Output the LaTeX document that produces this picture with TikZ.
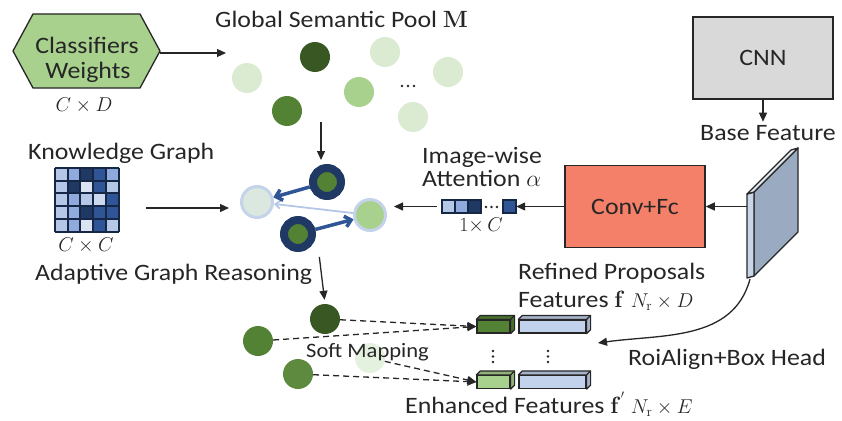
\RequirePackage{fix-cm}
\documentclass[tikz,border=0pt]{standalone}
\usepackage{amsmath}
\usepackage[no-math]{fontspec}
\setmainfont{Carlito}[FakeStretch=1.1]
\usepackage{tikz}
\usetikzlibrary{positioning,arrows.meta,calc}

\definecolor{edge}{HTML}{262626}
\definecolor{hexgreen}{HTML}{A9D18E}
\definecolor{dkgreen}{HTML}{385723}
\definecolor{mdgreen}{HTML}{548235}
\definecolor{ltgreen}{HTML}{A9D18E}
\definecolor{pale}{HTML}{DAEBD1}
\definecolor{navy}{HTML}{1F3864}
\definecolor{ringblue}{HTML}{C5D3EA}
\definecolor{convred}{HTML}{F4806A}
\definecolor{cnngray}{HTML}{D9D9D9}
\definecolor{slabface}{HTML}{9AAAC0}
\definecolor{slabside}{HTML}{C9D6EA}
\definecolor{barblue}{HTML}{C2D2EC}
\definecolor{kga}{HTML}{DAE3F3}
\definecolor{kgb}{HTML}{B4C7E7}
\definecolor{kgc}{HTML}{8FAADC}
\definecolor{kgd}{HTML}{2F5597}
\definecolor{kge}{HTML}{1F3864}
\definecolor{kgf}{HTML}{CBD8EE}

\newcommand{\mth}[1]{{\fontsize{20}{22}\selectfont$#1$}}

\begin{document}
\begin{tikzpicture}[x=1pt,y=-1pt,font=\fontsize{23.5}{27}\selectfont,text=edge,
    arr/.style={-{Triangle[length=9pt,width=8pt]},line width=1.3pt,draw=edge},
    dasharr/.style={arr,dash pattern=on 6pt off 4pt},
    garr/.style={-{Straight Barb[length=6pt,width=11pt]},line width=3.5pt,draw=kgd},
    txt/.style={anchor=base west,inner sep=0pt},
    ctxt/.style={anchor=base,inner sep=0pt},
    dot/.style={circle,inner sep=0pt,minimum size=30pt},
    ring/.style={circle,inner sep=0pt,minimum size=28pt,draw=navy,line width=8pt,fill=mdgreen},
    lring/.style={circle,inner sep=0pt,minimum size=31pt,draw=ringblue,line width=3pt},
    box/.style={draw=edge,line width=1.5pt,minimum width=140pt,minimum height=82pt},
    bar/.style={draw=edge,line width=1.2pt,inner sep=0pt,minimum height=13pt}]
  \useasboundingbox (0,0) rectangle (842,420);

  % classifier weights
  \draw[draw=edge,fill=hexgreen,line width=1.3pt]
    (13,51) -- (33,14) -- (140,14) -- (160,51) -- (140,88) -- (33,88) -- cycle;
  \node[ctxt] (cls1) at (87,53) {Classifiers};
  \node[ctxt] (cls2) at (88,78) {Weights};
  \node[ctxt] (clsdim) at (84,111) {\mth{C\times D}};
  \coordinate (clsout) at (160,53);
  \coordinate (poolin) at (226,53);
  \draw[arr] (clsout) -- (poolin);

  % global semantic pool
  \node[txt] (pooltitle) at (215,28) {Global Semantic Pool $\mathbf{M}$};
  \node[dot,fill=dkgreen] (p1) at (315,57) {};
  \node[dot,fill=pale] (p2) at (247,78) {};
  \node[dot,fill=pale] (p3) at (385,52) {};
  \node[dot,fill=ltgreen] (p4) at (359,92) {};
  \node[dot,fill=mdgreen] (p5) at (287,111) {};
  \node[dot,fill=pale] (p6) at (448,72) {};
  \node[dot,fill=pale] (p7) at (413,117) {};
  \foreach \d in {402,408,414}
    \fill[edge] (\d,86) circle (1.4);

  % graph
  \node[ring] (gtop) at (327,182) {};
  \node[ring] (gbot) at (298,234) {};
  \node[lring,fill=kga!40!pale] (gpale) at (257,202) {};
  \node[lring,fill=ltgreen] (glight) at (370,215) {};
  \draw[-{Straight Barb[length=5pt,width=8pt]},line width=1.8pt,draw=kgb] (glight) -- (gpale);
  \draw[garr] (gtop) -- (gpale);
  \draw[garr] (gbot) -- (glight);
  \coordinate (poolout) at (321,122);
  \draw[arr,shorten >=4pt] (poolout) -- (poolout |- gtop.north);

  % knowledge graph
  \node[txt] (kgtitle) at (28,159) {Knowledge Graph};
  \foreach \row [count=\i] in {{b,c,e,d,c},{b,e,a,d,b},{b,c,b,f,d},{b,c,e,d,d},{b,c,a,d,b}}
    \foreach \c [count=\j] in \row
      \fill[kg\c] (55+12.7*\j-12.7,168+12.7*\i-12.7) rectangle ++(12.7,12.7);
  \foreach \k in {0,...,5} {
    \draw[kge!70!black,line width=2pt] (55+12.7*\k,168) -- ++(0,63.5);
    \draw[kge!70!black,line width=2pt] (55,168+12.7*\k) -- ++(63.5,0);
  }
  \node[inner sep=0pt,minimum size=63.5pt] (kg) at (86.75,199.75) {};
  \node[ctxt] (kgdim) at (86,251) {\mth{C\times C}};
  \coordinate (kgout) at (146,208);
  \coordinate (gin) at (229,208);
  \draw[arr] (kgout) -- (gin);

  \node[txt] (agrtitle) at (35,280) {Adaptive Graph Reasoning};

  % image-wise attention
  \node[anchor=north west,inner sep=0pt,align=left,font=\fontsize{23.5}{23}\selectfont]
    (atttitle) at (422,147) {Image-wise\\Attention $\alpha$};
  \fill[kgb] (442,200) rectangle (455,213);
  \fill[kgc] (455,200) rectangle (468,213);
  \fill[kge] (468,200) rectangle (481,213);
  \fill[kgd] (503,200) rectangle (516,213);
  \draw[kge!70!black,line width=1.5pt] (442,200) rectangle (481,213);
  \draw[kge!70!black,line width=1.5pt] (455,200) -- (455,213) (468,200) -- (468,213);
  \draw[kge!70!black,line width=1.5pt] (503,200) rectangle (516,213);
  \foreach \d in {486,491.5,497}
    \fill[edge] (\d,207) circle (1.3);
  \node[inner sep=0pt,minimum width=74pt,minimum height=13pt] (att) at (479,206.5) {};
  \node[ctxt] (attdim) at (481,231) {\mth{1{\times}\,C}};

  % cnn, conv+fc, base feature
  \node[box,fill=cnngray] (cnn) at (763,58) {CNN};
  \node[ctxt] (basetitle) at (768,140) {Base Feature};
  \draw[arr,shorten >=3pt] (cnn.south) -- (cnn.south |- basetitle.north);
  \node[box,fill=convred] (convfc) at (635,206.5) {Conv+Fc};

  \filldraw[fill=slabface,draw=edge,line width=1.3pt,line join=round]
    (754,192) -- (798,148) -- (798,232) -- (754,276) -- cycle;
  \filldraw[fill=slabside,draw=edge,line width=1.3pt,line join=round]
    (747,194) -- (754,192) -- (754,276) -- (747,278) -- cycle;
  \filldraw[fill=slabside!50!white,draw=edge,line width=1.3pt,line join=round]
    (747,194) -- (791,150) -- (798,148) -- (754,192) -- cycle;
  \coordinate (slabL) at (747,206.5);
  \coordinate (slabB) at (750,279);

  \draw[arr] (slabL) -- (convfc.east);
  \draw[arr] (convfc.west) -- (att.east);
  \draw[arr,shorten <=5pt,shorten >=7pt] (att.west) -- (att.west -| glight.east);

  % proposals
  \node[txt] (reftitle) at (518,279) {Refined Proposals};
  \node[txt] (reftitle2) at (518,307) {Features $\mathbf{f}$ \mth{N_{\mathrm{r}}\times D}};
  \foreach \n/\c/\xx/\yy/\w in {gup/mdgreen/493.5/326.5/33,bup/barblue/552.5/326.5/67,
      glow/ltgreen/493.5/382/33,blow/barblue/552.5/382/67} {
    \node[bar,fill=\c,minimum width=\w pt] (\n) at (\xx,\yy) {};
    \filldraw[fill=\c!85!black,draw=edge,line width=1.2pt,line join=round]
      (\n.north west) -- ++(4,-4) -- ($(\n.north east)+(4,-4)$) -- ($(\n.south east)+(4,-4)$)
      -- (\n.south east) -- (\n.north east) -- cycle;
    \draw[edge,line width=1.2pt] (\n.north east) -- ++(4,-4);
  }
  \foreach \d in {351,356.5,362} {
    \fill[edge] (493,\d) circle (1.3);
    \fill[edge] (548,\d) circle (1.3);
  }
  \node[txt] (enhtitle) at (405,413) {Enhanced Features $\mathbf{f}^{'}$ \mth{N_{\mathrm{r}}\times E}};

  \coordinate (roiend) at (598,343);
  \draw[arr] (slabB) to[out=-105,in=8] (roiend);
  \node[txt] (roititle) at (628,365) {RoiAlign+Box Head};

  % soft mapping
  \node[dot,fill=pale!70!white] (s4) at (370,358) {};
  \node[dot,fill=dkgreen] (s1) at (325,319) {};
  \node[dot,fill=mdgreen] (s2) at (258,341) {};
  \node[dot,fill=mdgreen!90!ltgreen] (s3) at (298,374) {};
  \node[txt,font=\fontsize{20.5}{24}\selectfont] (softtitle) at (306,357) {Soft Mapping};
  \draw[arr,shorten >=4pt] ($(agrtitle.east)+(7,-17)$) -- (s1.north);
  \draw[dasharr] (s1) -- (gup.west);
  \draw[dasharr] (s2) -- (gup.west);
  \draw[dasharr] (s4) -- (glow.west);
  \draw[dasharr] (s3) -- (glow.west);
\end{tikzpicture}
\end{document}
